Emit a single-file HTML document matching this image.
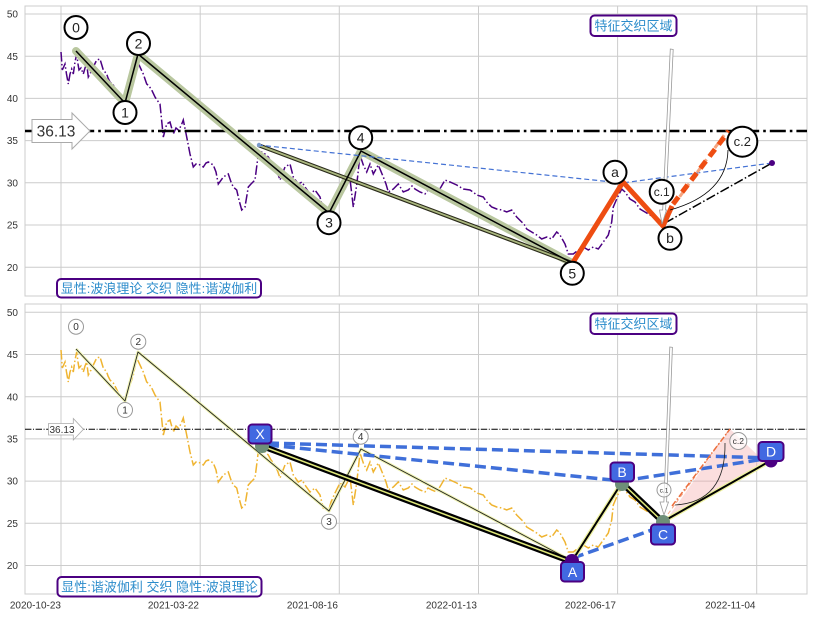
<!DOCTYPE html>
<html><head><meta charset="utf-8"><style>
html,body{margin:0;padding:0;background:#fff;}
svg{display:block;}
</style></head><body>
<svg width="813" height="617" viewBox="0 0 813 617" xmlns="http://www.w3.org/2000/svg" xmlns:xlink="http://www.w3.org/1999/xlink" font-family="'Liberation Sans','Noto Sans CJK SC',sans-serif">
<defs>
<clipPath id="ct"><rect x="25" y="6" width="782" height="290"/></clipPath>
<clipPath id="cb"><rect x="25" y="304" width="782" height="290"/></clipPath>
<polyline id="pr" fill="none" points="61,350 62.3,368 65,362 66.5,372 68.3,382 70,372 71.7,367 73.3,372 75,360 76.7,352 78,362 79,368 81,366 83.3,372 85,366 86.7,362 88.3,375 91,370 93.3,365 96.7,358 100,357 101.5,362 103.3,368 106.7,372 108,376 110,380 113.3,383 116,388 118.3,393 121.7,398 125,400 128.3,388 131,382 133.3,375 136.7,358 140,365 143.3,372 146.7,382 149,384 151.7,388 155,395 157,398 160,402 163.3,435 166.7,422 170,420 173.3,432 176,426 178.3,428 181,424 183.3,418 186.7,435 190,452 193.3,465 196,462 198.3,462 203.3,465 206,461 208.3,460 213.3,463 216,470 218.3,482 223.3,475 228.3,472 231,480 233.3,485 236.7,488 239,498 241.7,508 245,505 248.3,485 251,482 255,478 258.3,452 261.7,450 265,452 268.3,455 271,460 275,465 278,472 280,478 285,465 290,462 293.3,475 298.3,482 302,480 305,485 310,492 315,488 320,495 323.3,508 325,508 328.3,512 331,502 335,493 340,483 345,487 350,477 353.3,505 356.7,483 360,453 363.3,463 366.7,470 370,462 373.3,472 378.3,463 383.3,475 386,482 388.3,490 393.3,487 398.3,482 403.3,490 408.3,488 412,484 415,487 420,490 425,492 428,488 431.7,490 436.7,492 441,485 445,478 450,480 456.7,483 460,485 463.3,487 470,488 473,490 476.7,493 483.3,495 486.7,500 491.7,505 496.7,507 501.7,508 506.7,510 511.7,508 516.7,515 521.7,520 524,522 526.7,527 531.7,530 536.7,533 541.7,537 546.7,535 551.7,537 556.7,530 560,533 565,542 568.3,552 573.3,552 578.3,548 583.3,545 588.3,548 593.3,545 598.3,547 603.3,540 608.3,533 611.7,520 613.3,505 616.7,497 621.7,487 625,490 630,497 635,500 640,507 645,510 650,513 656.7,517 661.7,520"/>
<polyline id="wv" fill="none" points="76,349 125,401 138,352 329,511 361,449 572,561"/>
</defs>

<!-- ============ TOP PANEL ============ -->
<rect x="25" y="6" width="782" height="290" fill="#fff" stroke="#cccccc" stroke-width="1"/>
<g stroke="#cccccc" stroke-width="1">
<line x1="61" y1="6" x2="61" y2="296"/><line x1="200.2" y1="6" x2="200.2" y2="296"/><line x1="339.3" y1="6" x2="339.3" y2="296"/><line x1="478.5" y1="6" x2="478.5" y2="296"/><line x1="617.6" y1="6" x2="617.6" y2="296"/><line x1="756.7" y1="6" x2="756.7" y2="296"/>
<line x1="25" y1="14" x2="807" y2="14"/><line x1="25" y1="56.2" x2="807" y2="56.2"/><line x1="25" y1="98.4" x2="807" y2="98.4"/><line x1="25" y1="140.6" x2="807" y2="140.6"/><line x1="25" y1="182.8" x2="807" y2="182.8"/><line x1="25" y1="225" x2="807" y2="225"/><line x1="25" y1="267.2" x2="807" y2="267.2"/>
</g>
<g font-size="10" fill="#333" text-anchor="end">
<text x="18" y="17.6">50</text><text x="18" y="59.8">45</text><text x="18" y="102">40</text><text x="18" y="144.2">35</text><text x="18" y="186.4">30</text><text x="18" y="228.6">25</text><text x="18" y="270.8">20</text>
</g>
<g clip-path="url(#ct)">
<use xlink:href="#pr" transform="translate(0,-298)" stroke="#4b0082" stroke-width="1.5" stroke-dasharray="9.6 2.4 1.5 2.4"/>
<line x1="25" y1="131" x2="807" y2="131" stroke="#000" stroke-width="2.6" stroke-dasharray="16 4 2.6 4"/>
<use xlink:href="#wv" transform="translate(0,-298)" stroke="#b9c79f" stroke-width="8" stroke-linejoin="round" stroke-linecap="round"/>
<line x1="258" y1="145" x2="572" y2="263" stroke="#2a2a1a" stroke-width="4"/>
<line x1="258" y1="145" x2="572" y2="263" stroke="#aab77f" stroke-width="1.8"/>
<use xlink:href="#wv" transform="translate(0,-298)" stroke="#000" stroke-width="1.5" stroke-linejoin="round"/>
<polyline points="258,145 622,183 772,163" fill="none" stroke="#4472d4" stroke-width="1.2" stroke-dasharray="5 3"/>
<line x1="665" y1="223" x2="772" y2="163" stroke="#000" stroke-width="1.5" stroke-dasharray="9.6 2.4 1.5 2.4"/>
<line x1="668" y1="213" x2="727" y2="131" stroke="#f6a47e" stroke-width="3" stroke-dasharray="6 4"/>
<polyline points="572,264 623,182 663,226 672,206" fill="none" stroke="#ee4d12" stroke-width="5" stroke-linejoin="miter"/>
<line x1="673" y1="204" x2="729" y2="131" stroke="#ee4d12" stroke-width="5" stroke-dasharray="9 6"/>
<polygon points="670.3,49 673.2,49.5 665.6,210 666.5,210 662,224 659.5,210 662.7,210" fill="#fff" stroke="#999" stroke-width="0.8"/>
<path d="M728,150 Q727,194 670,210" fill="none" stroke="#000" stroke-width="0.8"/>
<circle cx="772" cy="163" r="3" fill="#4b0082"/>
<circle cx="259" cy="145" r="2.2" fill="#7c9ccc"/>
<g fill="#fff" stroke="#000" stroke-width="2">
<circle cx="76" cy="27.5" r="11.5"/><circle cx="125" cy="112.5" r="11.5"/><circle cx="138.5" cy="43.5" r="11.5"/><circle cx="329" cy="222.7" r="11.5"/><circle cx="360.7" cy="137.7" r="11.5"/><circle cx="572.3" cy="273.3" r="11.5"/><circle cx="615" cy="172.3" r="11.5"/><circle cx="670" cy="238.3" r="11.5"/><circle cx="661.7" cy="191.7" r="12"/><circle cx="742.3" cy="141.7" r="15"/>
</g>
<g font-size="14" fill="#222" text-anchor="middle">
<text x="76" y="32.5">0</text><text x="125" y="117.5">1</text><text x="138.5" y="48.5">2</text><text x="329" y="227.7">3</text><text x="360.7" y="142.7">4</text><text x="572.3" y="278.3">5</text><text x="615" y="177">a</text><text x="670" y="243">b</text>
<text x="661.7" y="196" font-size="12">c.1</text><text x="742.3" y="146" font-size="13">c.2</text>
</g>
</g>
<!-- top 36.13 arrow -->
<polygon points="32,119.5 72,119.5 72,113 90,131 72,149 72,142.5 32,142.5" fill="#fff" stroke="#aaa" stroke-width="1"/>
<text x="56" y="136.5" font-size="15.5" fill="#333" text-anchor="middle">36.13</text>
<!-- top boxes -->
<rect x="57" y="279" width="204" height="18.5" rx="4" fill="#fff" stroke="#4b0082" stroke-width="2"/>
<text x="159" y="293" font-size="13" fill="#2c8ccb" text-anchor="middle">显性:波浪理论 交织 隐性:谐波伽利</text>
<rect x="590.5" y="15.5" width="86" height="20.5" rx="4" fill="#fff" stroke="#4b0082" stroke-width="2"/>
<text x="633.5" y="30.5" font-size="13" fill="#2c8ccb" text-anchor="middle">特征交织区域</text>

<!-- ============ BOTTOM PANEL ============ -->
<rect x="25" y="304" width="782" height="290" fill="#fff" stroke="#cccccc" stroke-width="1"/>
<g stroke="#cccccc" stroke-width="1">
<line x1="61" y1="304" x2="61" y2="594"/><line x1="200.2" y1="304" x2="200.2" y2="594"/><line x1="339.3" y1="304" x2="339.3" y2="594"/><line x1="478.5" y1="304" x2="478.5" y2="594"/><line x1="617.6" y1="304" x2="617.6" y2="594"/><line x1="756.7" y1="304" x2="756.7" y2="594"/>
<line x1="25" y1="312.3" x2="807" y2="312.3"/><line x1="25" y1="354.5" x2="807" y2="354.5"/><line x1="25" y1="396.7" x2="807" y2="396.7"/><line x1="25" y1="438.9" x2="807" y2="438.9"/><line x1="25" y1="481.1" x2="807" y2="481.1"/><line x1="25" y1="523.3" x2="807" y2="523.3"/><line x1="25" y1="565.5" x2="807" y2="565.5"/>
</g>
<g font-size="10" fill="#333" text-anchor="end">
<text x="18" y="315.9">50</text><text x="18" y="358.1">45</text><text x="18" y="400.3">40</text><text x="18" y="442.5">35</text><text x="18" y="484.7">30</text><text x="18" y="526.9">25</text><text x="18" y="569.1">20</text>
</g>
<g font-size="10" fill="#333" text-anchor="end">
<text x="61" y="608.5">2020-10-23</text><text x="199" y="608.5">2021-03-22</text><text x="338" y="608.5">2021-08-16</text><text x="477" y="608.5">2022-01-13</text><text x="616" y="608.5">2022-06-17</text><text x="755.5" y="608.5">2022-11-04</text>
</g>
<g clip-path="url(#cb)">
<use xlink:href="#pr" stroke="#efb431" stroke-width="1.5" stroke-dasharray="9.6 2.4 1.5 2.4"/>
<line x1="25" y1="429.3" x2="807" y2="429.3" stroke="#000" stroke-width="1" stroke-dasharray="6.4 1.6 1 1.6"/>
<use xlink:href="#wv" stroke="#eef2b0" stroke-width="3" stroke-linejoin="round"/>
<use xlink:href="#wv" stroke="#222" stroke-width="0.9" stroke-linejoin="round"/>
<polygon points="667,519 730,429 765,462" fill="#f4a0a0" opacity="0.35"/>
<g fill="none" stroke="#3f6fd9" stroke-width="3.5" stroke-dasharray="11 5">
<line x1="268" y1="443" x2="771" y2="458"/>
<line x1="268" y1="445" x2="622" y2="481"/>
<line x1="622" y1="481" x2="771" y2="458"/>
<line x1="573" y1="558" x2="663" y2="526"/>
</g>
<line x1="262" y1="446" x2="572" y2="562" stroke="#000" stroke-width="6"/>
<line x1="262" y1="446" x2="572" y2="562" stroke="#dfe87a" stroke-width="1.5"/>
<line x1="622" y1="483" x2="663" y2="522" stroke="#000" stroke-width="6"/>
<line x1="622" y1="483" x2="663" y2="522" stroke="#dfe87a" stroke-width="1.5"/>
<line x1="572" y1="561" x2="621" y2="484" stroke="#eef2a0" stroke-width="4.5"/>
<line x1="572" y1="561" x2="621" y2="484" stroke="#000" stroke-width="2"/>
<line x1="664" y1="521" x2="770" y2="461" stroke="#eef2a0" stroke-width="4.5"/>
<line x1="664" y1="521" x2="770" y2="461" stroke="#000" stroke-width="2"/>
<line x1="668" y1="514" x2="729" y2="430" stroke="#f5a488" stroke-width="1" stroke-dasharray="4 3"/>
<line x1="672" y1="506" x2="730" y2="429" stroke="#ec6e3c" stroke-width="1.5" stroke-dasharray="6 2 1.5 2"/>
<polygon points="669.8,347 672.4,347.3 666.6,502 668.5,502 664,515 660,502 663.9,502" fill="#fff" stroke="#999" stroke-width="0.8"/>
<path d="M725,443 Q726,502 675,505" fill="none" stroke="#222" stroke-width="0.8"/>
<circle cx="262" cy="446" r="7" fill="#6e8f78"/>
<circle cx="622" cy="484" r="7" fill="#6e8f78"/>
<circle cx="663" cy="522" r="7" fill="#6e8f78"/>
<circle cx="572" cy="561" r="7" fill="#4b0082"/>
<circle cx="771" cy="461" r="6.5" fill="#4b0082"/>
<g fill="#fff" stroke="#999" stroke-width="1">
<circle cx="76" cy="326.7" r="7.5"/><circle cx="125" cy="410" r="7.5"/><circle cx="138.3" cy="341.7" r="7.5"/><circle cx="329" cy="521.7" r="7.5"/><circle cx="360.7" cy="436.7" r="7.5"/><circle cx="664" cy="490" r="7" fill-opacity="0.7"/><circle cx="738.3" cy="441" r="8.5" fill-opacity="0.7"/>
</g>
<g font-size="10" fill="#333" text-anchor="middle">
<text x="76" y="330.2">0</text><text x="125" y="413.5">1</text><text x="138.3" y="345.2">2</text><text x="329" y="525.2">3</text><text x="360.7" y="440.2">4</text>
<text x="664" y="492.5" font-size="6.5">c.1</text><text x="738.3" y="444" font-size="8.5">c.2</text>
</g>
</g>
<!-- harmonic label boxes -->
<g stroke="#4b0082" stroke-width="2" fill="#4169e1">
<rect x="248.5" y="424.5" width="23" height="19" rx="3.5"/>
<rect x="561" y="562" width="23" height="19.5" rx="3.5"/>
<rect x="610.5" y="462.5" width="23.5" height="19" rx="3.5"/>
<rect x="651" y="524.5" width="24" height="20" rx="3.5"/>
<rect x="758.5" y="442" width="25" height="19" rx="3.5"/>
</g>
<g font-size="14" fill="#fff" text-anchor="middle">
<text x="260" y="439">X</text><text x="572.5" y="577">A</text><text x="622" y="477">B</text><text x="663" y="539.5">C</text><text x="771" y="456.5">D</text>
</g>
<!-- bottom 36.13 arrow -->
<polygon points="48.5,423.5 73.3,423.5 73.3,418.5 83.5,429.3 73.3,440 73.3,435 48.5,435" fill="#fff" stroke="#aaa" stroke-width="0.8"/>
<text x="62" y="432.8" font-size="10" fill="#333" text-anchor="middle">36.13</text>
<!-- bottom boxes -->
<rect x="57.5" y="577" width="204" height="19.5" rx="4" fill="#fff" stroke="#4b0082" stroke-width="2"/>
<text x="159.5" y="591.5" font-size="13" fill="#2c8ccb" text-anchor="middle">显性:谐波伽利 交织 隐性:波浪理论</text>
<rect x="590.5" y="313.5" width="86" height="20.5" rx="4" fill="#fff" stroke="#4b0082" stroke-width="2"/>
<text x="633.5" y="328.5" font-size="13" fill="#2c8ccb" text-anchor="middle">特征交织区域</text>
</svg>
</body></html>
